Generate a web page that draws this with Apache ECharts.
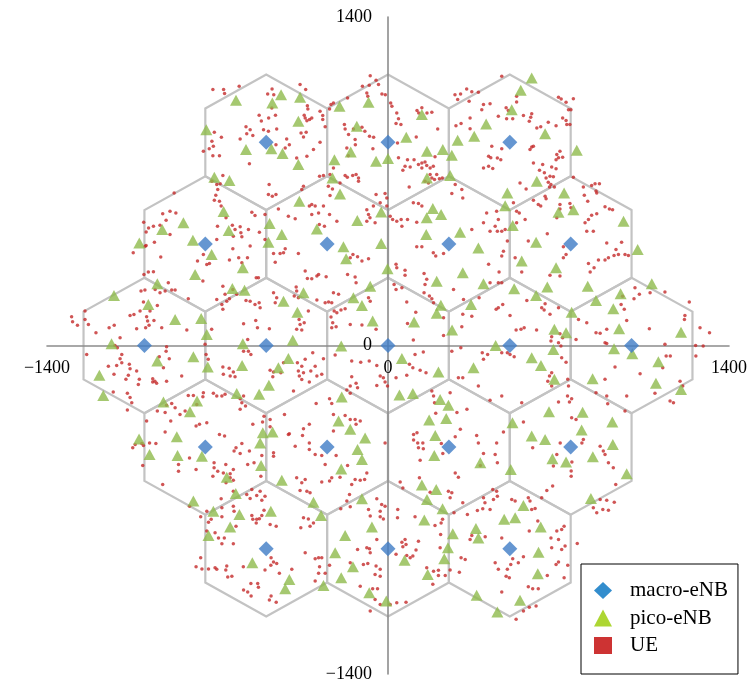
<!DOCTYPE html>
<html>
<head>
<meta charset="utf-8">
<script src="https://cdn.jsdelivr.net/npm/echarts@6/dist/echarts.min.js"></script>
<style>html,body{margin:0;padding:0;background:#fff}#chart{width:750px;height:682px}</style>
</head>
<body>
<div id="chart"></div>
<script>
// ---- data (metres) ----
const axisTicks = [-1400, 0, 1400];
const interSiteDistance = 500;
const seriesNames = ['macro-eNB', 'pico-eNB', 'UE'];

const macroENB = [
  [-500,866],[0,866],[500,866],
  [-750,433],[-250,433],[250,433],[750,433],
  [-1000,0],[-500,0],[0,0],[500,0],[1000,0],
  [-750,-433],[-250,-433],[250,-433],[750,-433],
  [-500,-866],[0,-866],[500,-866]
];

const picoENB = [
  [-624,1045],[-475,1034],[-746,920],[-583,835],[-479,838],[-713,717],[-651,703],[-675,571],[-840,523],[-927,494],[-654,490],[-801,449],[-1021,437],[-486,520],[-491,440],
  [-439,1069],[-361,1058],[-199,1020],[-80,1037],[-368,956],[-128,934],[-433,818],[-153,825],[-49,785],[-220,792],[-368,771],[0,797],[75,888],[139,984],[160,828],[225,835],[262,811],[286,875],[354,892],[403,944],[255,724],[160,714],[-228,714],[-197,646],[-364,615],[-436,473],[-292,497],[-126,533],[-28,569],[184,584],[218,558],[159,544],[296,483],[157,473],
  [590,1140],[545,1088],[508,1005],[645,902],[775,832],[611,700],[490,650],[481,596],[723,650],[700,568],[761,579],[967,530],[512,511],[608,440],
  [-724,388],[-596,331],[-792,303],[-947,263],[-1125,213],[-984,175],[-639,243],[-589,235],[-874,111],[-767,115],[-744,47],[-1135,7],[-596,7],[-799,-48],[-947,-66],[-740,-92],[-599,-85],[-1185,-127],[-489,-169],[-1169,-213],[-922,-241],[-784,-237],[-813,-282],[-621,-205],[-529,-208],[-514,-372],[-474,-369],
  [-183,421],[-28,435],[-172,370],[-2,327],[-347,225],[-429,189],[-372,142],[-142,204],[-73,253],[-107,171],[-63,104],[-391,22],[-192,-2],[-409,-55],[-450,-95],[-190,-220],[-203,-322],[-155,-357],[307,310],[371,416],[392,263],[200,274],[217,172],[200,137],[341,175],[107,100],[263,66],[57,-55],[207,-113],[351,-95],[47,-211],[102,-205],[214,-230],[248,-255],[239,-311],[169,-318],
  [1025,409],[549,360],[690,331],[518,242],[608,213],[654,249],[820,253],[854,192],[955,221],[1083,263],[754,142],[925,157],[683,69],[731,54],[949,71],[1203,57],[442,0],[679,-17],[928,-14],[1003,-35],[590,-52],[628,-85],[1110,-69],[683,-144],[840,-142],[1100,-161],[1203,-187],[661,-282],[799,-284],[511,-329],[921,-326],[795,-360],
  [-1022,-398],[-867,-389],[-979,-465],[-864,-469],[-764,-472],[-525,-415],[-521,-511],[-662,-561],[-625,-631],[-799,-663],[-717,-706],[-610,-720],[-481,-706],[-648,-774],[-737,-810],[-557,-926],
  [-94,-394],[-125,-443],[-107,-486],[-192,-526],[-436,-574],[-306,-668],[-275,-724],[-107,-653],[-66,-773],[-176,-810],[-217,-883],[-144,-943],[-192,-990],[-265,-1023],[-405,-997],[-422,-1037],[-77,-1054],[-7,-1089],[194,-384],[190,-469],[379,-500],[139,-595],[198,-614],[160,-656],[224,-696],[149,-744],[266,-802],[246,-862],[231,-909],[68,-915],[163,-976],[361,-780],[371,-820],[364,-1064],
  [590,-386],[645,-401],[923,-422],[841,-474],[675,-483],[731,-496],[980,-547],[504,-528],[833,-652],[556,-682],[477,-741],[522,-734],[627,-774],[618,-881],[615,-973],[542,-1086],[449,-1136]
];

const ueTop = [
  [-719,1091],[-675,1091],[-671,1074],[-611,1105],[-476,1093],[-494,1072],[-469,1069],[-477,1012],[-529,981],[-520,957],[-490,970],[-462,981],[-583,932],[-566,920],[-580,902],[-607,880],[-555,895],[-511,920],[-491,913],[-457,923],[-713,909],[-684,888],[-723,870],[-717,849],[-734,838],[-758,828],[-719,809],[-692,809],[-569,775],[-460,856],[-678,724],[-723,700],[-703,686],[-689,689],[-699,665],[-707,640],[-713,619],[-692,615],[-685,594],[-665,544],[-559,568],[-546,554],[-488,686],[-491,643],[-475,636],[-460,643],[-450,582],[-505,558],[-878,650],[-925,562],[-895,572],[-871,565],[-911,534],[-1003,525],[-983,501],[-963,508],[-993,484],[-936,513],[-895,473],[-700,508],[-639,513],[-628,494],[-607,506],[-604,480],[-635,466],[-600,463],[-573,494],[-528,483],[-505,452],[-703,452],[-959,440],[-997,423],
  [-361,1112],[-338,1091],[-73,1150],[-49,1130],[-77,1109],[-105,1105],[-39,1112],[-87,1076],[-83,1062],[-25,1072],[-11,1069],[-166,1055],[-224,1034],[-234,1027],[-240,1008],[11,1034],[16,1020],[36,991],[43,966],[33,946],[53,942],[119,1001],[126,991],[160,991],[180,994],[139,1013],[204,923],[116,889],[-331,1022],[-329,1008],[-344,981],[-340,970],[-322,963],[-313,970],[-333,958],[-279,998],[-268,980],[-268,963],[-258,932],[-179,942],[-176,923],[-142,923],[-107,930],[-162,899],[-76,892],[-59,888],[-95,913],[-135,878],[-134,856],[-169,842],[-62,838],[-163,809],[-416,880],[-405,856],[-422,842],[-375,799],[-333,807],[-306,835],[-347,889],[-357,906],[-336,909],[-279,866],
  [275,1069],[298,1072],[286,1048],[333,1041],[344,1081],[323,1093],[371,1079],[392,1027],[419,1030],[385,1005],[337,970],[300,946],[279,937],[337,924],[426,849],[413,807],[392,757],[413,764],[430,754],[422,800],
  [39,863],[80,792],[43,800],[70,764],[91,761],[107,792],[125,771],[139,778],[152,782],[159,767],[173,757],[186,764],[193,804],[139,757],[61,747],[173,729],[180,714],[191,707],[211,711],[223,714],[87,675],[152,700],[166,693],[200,729],
  [-347,679],[-354,665],[-313,601],[-323,594],[-299,594],[-285,565],[-265,594],[-240,558],[-210,530],[-313,558],[-282,516],[-261,508],[-409,551],[-381,540],[-281,721],[-265,724],[-238,729],[-224,757],[-176,724],[-167,717],[-145,724],[-131,729],[-121,700],[-121,714],[-238,639],[-245,679],[-228,667],[-197,693],[-87,579],[-80,558],[-87,530],[-74,544],[-60,594],[-49,643],[-32,608],[-12,648],[-5,629],[9,551],[19,537],[36,530],[54,537],[80,537],[118,525],[104,608],[125,605],[139,594],[57,508],[-5,594],[-53,523],[262,648],[303,665],[307,629],[276,686],[344,494],[392,523],[405,565],[419,487],
  [467,1147],[528,1062],[528,1038],[485,1013],[494,1001],[453,977],[487,966],[512,966],[556,980],[590,988],[586,973],[580,956],[611,927],[627,932],[658,951],[690,937],[717,970],[731,959],[734,942],[747,942],[700,1058],[711,1051],[731,1037],[761,1052],[741,1005],[751,1005],[467,839],[449,799],[463,792],[590,846],[597,849],[583,835],[597,778],[635,771],[672,761],[690,753],[690,792],[700,800],[693,814],[706,828],[717,802],[622,747],[642,736],[649,714],[665,721],[679,719],[658,696],[669,686],[683,676],[663,676],[567,667],[542,693],[761,717],[802,675],[836,682],[850,689],[868,689],[854,658],[857,650],[806,640],[820,615],[645,636],[649,625],[597,619],[627,594],[617,601],[706,601],[747,605],[751,587],[706,582],[693,544],[891,591],[909,582],[922,579],[857,562],[836,555],[823,537],[809,523],[816,487],[843,487],[654,476],[576,445],[898,437],[959,440],[528,572],[539,565],[515,608],[446,572],[453,537],[440,508],[449,487],[467,487],[481,494],[490,445],[528,523],[563,537]
];

const ueMiddle = [
  [-1046,395],[-993,426],[-933,377],[-782,360],[-744,345],[-733,350],[-760,275],[-758,388],[-637,412],[-651,364],[-613,374],[-577,374],[-566,424],[-600,353],[-470,392],[-463,355],[-1002,303],[-984,313],[-963,314],[-902,267],[-956,239],[-998,236],[-1014,232],[-936,225],[-915,232],[-888,236],[-874,236],[-820,199],[-1004,185],[-977,147],[-947,171],[-1059,128],[-1043,132],[-1018,147],[-991,123],[-987,104],[-961,107],[-981,86],[-995,76],[-1032,71],[-1145,76],[-1124,86],[-1199,54],[-929,76],[-826,66],[-1299,123],[-1295,101],[-1275,86],[-1244,111],[-1230,90],[-1244,147],[-1100,33],[-1121,0],[-1111,-10],[-909,-5],[-911,-24],[-898,-56],[-939,-48],[-1237,-38],[-1093,-38],[-1100,-56],[-1114,-85],[-1093,-73],[-1062,-80],[-1059,-99],[-1066,-127],[-1076,-144],[-1125,-123],[-1148,-88],[-1032,-109],[-1021,-144],[-1025,-166],[-966,-142],[-957,-152],[-950,-161],[-966,-156],[-909,-152],[-847,-130],[-922,-95],[-1070,-204],[-1059,-222],[-1052,-244],[-1128,-198],[-1070,-275],[-991,-322],[-947,-279],[-915,-286],[-892,-322],[-909,-255],[-888,-247],[-874,-265],[-854,-294],[-833,-279],[-820,-213],[-799,-213],[-758,-201],[-760,-218],[-785,-251],[-774,-336],[-788,-343],[-744,-329],[-915,-369],[-717,-204],[-703,-215],[-682,-215],[-669,-208],[-607,-227],[-593,-215],[-600,-244],[-585,-258],[-607,-272],[-652,-97],[-648,-130],[-628,-133],[-635,-113],[-678,-92],[-593,-24],[-573,-24],[-563,-38],[-576,26],[-593,93],[-543,107],[-536,76],[-487,71],[-470,-113],[-484,-106],[-473,-133],[-457,204],[-470,225],[-463,182],[-583,192],[-566,189],[-546,175],[-525,161],[-529,182],[-662,189],[-682,175],[-678,154],[-703,196],[-651,199],[-621,218],[-637,239],[-669,218],[-678,253],[-541,289],[-532,289],[-724,69],[-751,5],[-747,-38],[-738,-59],[-676,-123],[-555,-336],[-515,-326],[-509,-301],[-484,-315],[-484,-346],
  [-443,392],[-429,395],[-422,412],[-368,392],[-155,374],[-144,388],[-125,378],[-107,360],[-80,370],[-340,317],[-331,286],[-313,284],[-292,296],[-285,303],[-254,293],[-166,303],[-135,292],[-131,267],[-377,249],[-375,232],[-368,204],[-385,211],[-327,147],[-365,111],[-361,90],[-375,69],[-354,66],[-344,97],[-292,194],[-258,182],[-244,185],[-231,182],[-224,225],[-203,218],[-193,151],[-210,140],[-221,147],[-234,121],[-227,97],[-231,76],[-213,80],[-155,90],[-107,87],[-80,204],[-73,189],[-176,157],[-49,69],[-149,-66],[-112,-71],[-77,-66],[-46,-85],[-217,-41],[-149,-133],[-155,-173],[-131,-161],[-125,-180],[-169,-190],[-155,-204],[-46,-170],[-32,-130],[-19,-137],[-12,-156],[-2,-173],[-240,-227],[-231,-247],[-224,-294],[-176,-298],[-155,-315],[-135,-315],[-114,-322],[-131,-336],[-224,-364],[-347,-355],[-323,-336],[-405,-376],[-425,-294],[-388,-194],[-295,-247],[-354,-145],[-364,-130],[-347,-116],[-368,-109],[-354,-88],[-372,-73],[-340,-59],[-309,-31],[-317,-109],[-299,-88],[-272,-123],[-265,-56],[-323,-156],[-292,-130],[-429,-73],[-440,-116],
  [33,346],[36,331],[70,321],[70,299],[25,260],[33,239],[57,246],[118,421],[139,421],[186,395],[196,381],[228,392],[148,307],[159,282],[152,260],[148,225],[170,211],[180,199],[187,182],[77,185],[114,142],[80,94],[228,118],[269,239],[310,196],[374,204],[413,346],[419,267],[307,133],[344,125],[303,80],[228,43],[104,23],[145,-28],[111,-38],[88,-80],[102,-95],[132,-106],[156,-116],[33,-137],[77,-127],[180,-194],[187,-215],[191,-244],[196,-289],[255,-201],[283,-286],[324,-272],[297,-357],[119,-372],[262,-24],[299,-10],[289,-137],[307,-137],[371,-173],[387,-31],[409,-38],[392,-59],[419,-233],
  [474,402],[467,381],[522,374],[549,313],[456,313],[453,267],[467,267],[720,421],[731,388],[720,374],[936,409],[928,384],[946,388],[973,388],[987,384],[905,374],[891,364],[864,364],[846,331],[823,350],[830,313],[665,299],[706,296],[453,161],[444,154],[471,175],[501,128],[570,192],[645,178],[631,161],[641,151],[665,133],[700,161],[526,66],[546,69],[559,76],[610,66],[672,37],[706,50],[717,33],[700,12],[710,-2],[669,19],[772,26],[467,-31],[490,-31],[501,-38],[518,-48],[713,-52],[731,-71],[672,-116],[663,-130],[656,-152],[672,-173],[738,-144],[741,-173],[467,-215],[549,-244],[700,-241],[737,-215],[754,-227],[745,-241],[754,-308],[772,-315],[556,-326],[474,-369],[782,111],[816,97],[854,54],[871,52],[898,69],[891,12],[898,9],[980,107],[957,175],[963,210],[970,154],[1014,246],[1032,218],[1010,199],[1076,225],[1137,228],[1237,185],[1219,128],[1217,111],[1281,76],[1320,54],[1263,0],[1294,-2],[1264,-45],[1073,71],[1137,5],[1142,-45],[1159,-45],[1128,-95],[932,-92],[1035,-120],[980,-215],[891,-144],[854,-201],[898,-215],[902,-248],[973,-279],[1096,-204],[1158,-237],[1172,-244],[1210,-173],[1199,-152]
];

const ueBottom = [
  [-1048,-436],[-1038,-422],[-1011,-418],[-1004,-426],[-979,-415],[-953,-418],[-1007,-511],[-925,-592],[-815,-685],[-815,-479],[-860,-507],[-860,-536],[-788,-528],[-714,-500],[-692,-379],[-671,-386],[-714,-521],[-699,-536],[-719,-557],[-666,-507],[-676,-543],[-648,-547],[-635,-528],[-648,-564],[-635,-574],[-665,-585],[-624,-436],[-632,-450],[-600,-418],[-607,-460],[-569,-450],[-576,-507],[-550,-500],[-518,-469],[-522,-557],[-470,-457],[-470,-472],[-635,-621],[-580,-635],[-566,-652],[-539,-639],[-518,-660],[-505,-642],[-525,-621],[-559,-614],[-685,-653],[-682,-692],[-635,-685],[-632,-706],[-744,-706],[-737,-753],[-726,-741],[-682,-730],[-769,-730],[-559,-724],[-555,-741],[-539,-741],[-541,-756],[-528,-738],[-518,-724],[-509,-702],[-484,-763],[-459,-770],[-624,-770],[-672,-820],[-696,-820],[-710,-798],[-744,-791],[-682,-845],[-635,-845],[-769,-905],[-788,-943],[-764,-952],[-737,-952],[-710,-947],[-703,-954],[-662,-940],[-666,-957],[-641,-983],[-658,-987],[-594,-943],[-563,-1014],[-535,-1014],[-532,-1030],[-593,-1042],[-576,-1051],[-562,-1068],[-480,-1068],[-487,-1085],[-459,-1094],[-505,-957],[-481,-937],[-470,-923],[-457,-929],[-446,-971],[-480,-905],
  [-409,-379],[-351,-384],[-381,-429],[-323,-415],[-323,-443],[-299,-465],[-272,-469],[-258,-507],[-213,-469],[-166,-511],[-87,-543],[-149,-592],[-135,-571],[-114,-574],[-96,-571],[-197,-561],[-231,-564],[-240,-578],[-272,-582],[-340,-571],[-354,-585],[-375,-564],[-361,-618],[-333,-621],[-320,-628],[-158,-635],[-169,-663],[-155,-687],[-194,-696],[-347,-734],[-327,-739],[-306,-756],[-320,-770],[-358,-777],[-340,-883],[-299,-909],[-285,-905],[-272,-905],[-281,-943],[-240,-937],[-299,-1004],[-285,-971],[-258,-971],[-395,-954],[-46,-653],[-80,-699],[-73,-727],[-26,-678],[-12,-685],[-32,-706],[-32,-730],[-19,-739],[-46,-827],[-87,-862],[-76,-866],[-73,-883],[-125,-869],[-155,-926],[-101,-933],[-83,-929],[-49,-940],[-32,-954],[-53,-976],[-32,-983],[-114,-1026],[-63,-1037],[-43,-1037],[-53,-1082],[-32,-1104],[-73,-1132],[9,-1104],[36,-1096],[74,-1094],[-12,-415],[50,-582],[61,-607],[40,-699],[39,-734],[111,-730],[70,-827],[57,-838],[61,-858],[74,-848],[33,-890],[77,-895],[91,-905],[102,-897],[115,-872],[125,-834],[214,-862],[159,-947],[187,-962],[207,-958],[207,-980],[184,-1018],[235,-980],[255,-957],[293,-966],[317,-912],[300,-905],[337,-827],[344,-810],[399,-815],[326,-720],[218,-756],[193,-767],[216,-805],[224,-741],[271,-713],[307,-670],[367,-703],[389,-696],[398,-670],[419,-699],[433,-656],[392,-649],[430,-614],[248,-621],[262,-628],[255,-649],[173,-625],[129,-564],[276,-543],[289,-561],[105,-379],[105,-403],[122,-415],[143,-415],[125,-436],[145,-440],[219,-418],[225,-460],[132,-489],[276,-389],[364,-384],[371,-415],[392,-460],[379,-511],
  [446,-415],[440,-465],[449,-500],[594,-436],[707,-415],[693,-465],[755,-497],[679,-514],[752,-535],[752,-557],[796,-415],[802,-401],[871,-429],[884,-450],[891,-465],[905,-500],[925,-521],[935,-592],[898,-659],[929,-668],[871,-656],[843,-692],[857,-713],[882,-699],[905,-702],[652,-618],[676,-599],[631,-649],[576,-649],[583,-663],[590,-699],[604,-695],[508,-656],[522,-663],[446,-621],[449,-642],[615,-748],[580,-791],[693,-791],[713,-784],[723,-770],[669,-820],[672,-862],[700,-827],[727,-855],[713,-869],[777,-844],[700,-923],[690,-933],[738,-937],[723,-990],[654,-980],[467,-820],[556,-900],[535,-926],[504,-933],[512,-909],[490,-954],[485,-983],[498,-990],[440,-926],[453,-954],[467,-1051],[576,-1028],[594,-1037],[617,-1037],[556,-1132],[580,-1115],[526,-1167],[608,-1110]
];

const ueData = ueTop.concat(ueMiddle, ueBottom);

// ---- chart ----
const W = 750, H = 682;
const gridBox = {left: 47, right: 21, top: 17, bottom: 8};
const axMin = axisTicks[0], axMax = axisTicks[axisTicks.length - 1];
const gridW = W - gridBox.left - gridBox.right;
const gridH = H - gridBox.top - gridBox.bottom;
// move each axis (line + labels) so that it crosses the other axis at zero
const yAxisOffset = -gridW * (0 - axMin) / (axMax - axMin);
const xAxisOffset = -gridH * (0 - axMin) / (axMax - axMin);

const cellRadius = interSiteDistance / Math.sqrt(3);
const serif = '"Liberation Serif", "Times New Roman", serif';
const fmt = v => (v < 0 ? '\u2212' + Math.abs(v) : String(v));

const chart = echarts.init(document.getElementById('chart'), null, {renderer: 'canvas'});
function makeAxis(extra, margin) {
  return Object.assign({
    type: 'value',
    min: axMin,
    max: axMax,
    interval: axisTicks[1] - axisTicks[0],
    z: 1,
    axisLine: {show: true, onZero: false, lineStyle: {color: '#8c8c8c', width: 1.6}},
    axisTick: {show: false},
    splitLine: {show: false},
    axisLabel: {color: '#000', fontFamily: serif, fontSize: 18, margin: margin, showMinLabel: true, showMaxLabel: true, hideOverlap: false, formatter: fmt}
  }, extra);
}

chart.setOption({
  animation: false,
  backgroundColor: '#fff',
  grid: Object.assign({containLabel: false, outerBoundsMode: 'none'}, gridBox),
  xAxis: makeAxis({position: 'bottom', offset: xAxisOffset}, 14),
  yAxis: makeAxis({position: 'left', offset: yAxisOffset}, 16),
  legend: {
    orient: 'vertical',
    left: 581, top: 564,
    padding: [16, 10, 18, 13],
    itemWidth: 18, itemHeight: 17, itemGap: 6.5,
    symbolKeepAspect: true,
    borderColor: '#000', borderWidth: 1, backgroundColor: '#fff', borderRadius: 0,
    textStyle: {fontFamily: serif, fontSize: 21, color: '#000', lineHeight: 21, padding: [0, 0, 0, 13]},
    data: [
      {name: seriesNames[0], icon: 'diamond', itemStyle: {color: '#0070C0'}},
      {name: seriesNames[1], icon: 'triangle', itemStyle: {color: '#99CC00'}},
      {name: seriesNames[2], icon: 'rect', itemStyle: {color: '#C00000'}}
    ]
  },
  series: [
    {
      type: 'custom', name: 'cells', z: 0, silent: true,
      data: macroENB,
      renderItem: function (params, api) {
        const cx = api.value(0), cy = api.value(1);
        const pts = [];
        for (let k = 0; k < 6; k++) {
          const a = Math.PI / 6 + k * Math.PI / 3;
          pts.push(api.coord([cx + cellRadius * Math.cos(a), cy + cellRadius * Math.sin(a)]));
        }
        return {type: 'polygon', shape: {points: pts}, style: {fill: 'none', stroke: '#c3c3c3', lineWidth: 2.2}};
      }
    },
    {name: seriesNames[2], type: 'scatter', z: 2, data: ueData, symbol: 'circle', symbolSize: 3.5, itemStyle: {color: '#c42a2a'}, silent: true},
    {name: seriesNames[1], type: 'scatter', z: 3, data: picoENB, symbol: 'triangle', symbolSize: [12, 11], itemStyle: {color: '#8fba4c'}, silent: true},
    {name: seriesNames[0], type: 'scatter', z: 4, data: macroENB, symbol: 'diamond', symbolSize: 15, itemStyle: {color: '#3f7cc6'}, silent: true}
  ]
});
</script>
</body>
</html>
